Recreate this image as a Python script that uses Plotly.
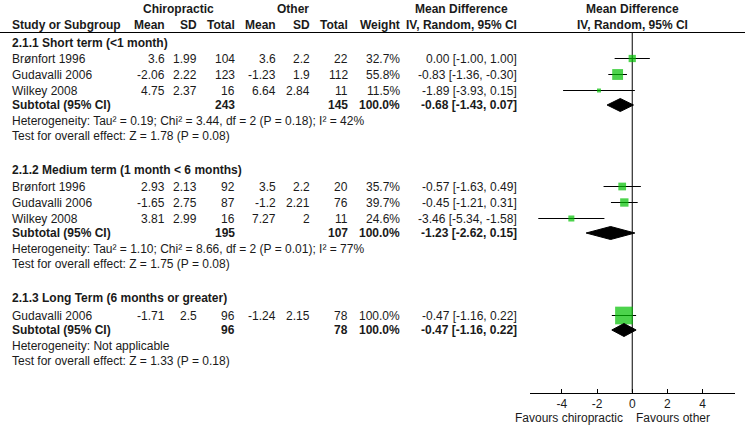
import plotly.graph_objects as go

# forest plot: chiropractic vs other, mean difference by follow-up period

groups = [
    "2.1.1 Short term (<1 month)",
    "2.1.2 Medium term (1 month < 6 months)",
    "2.1.3 Long Term (6 months or greater)",
]

study_group = [0, 0, 0, 1, 1, 1, 2]
study_names = ["Brønfort 1996", "Gudavalli 2006", "Wilkey 2008",
               "Brønfort 1996", "Gudavalli 2006", "Wilkey 2008",
               "Gudavalli 2006"]
chiro_mean = [3.6, -2.06, 4.75, 2.93, -1.65, 3.81, -1.71]
chiro_sd = [1.99, 2.22, 2.37, 2.13, 2.75, 2.99, 2.5]
chiro_n = [104, 123, 16, 92, 87, 16, 96]
other_mean = [3.6, -1.23, 6.64, 3.5, -1.2, 7.27, -1.24]
other_sd = [2.2, 1.9, 2.84, 2.2, 2.21, 2, 2.15]
other_n = [22, 112, 11, 20, 76, 11, 78]
weight = [32.7, 55.8, 11.5, 35.7, 39.7, 24.6, 100.0]
md = [0.00, -0.83, -1.89, -0.57, -0.45, -3.46, -0.47]
md_lo = [-1.00, -1.36, -3.93, -1.63, -1.21, -5.34, -1.16]
md_hi = [1.00, -0.30, 0.15, 0.49, 0.31, -1.58, 0.22]

sub_chiro_n = [243, 195, 96]
sub_other_n = [145, 107, 78]
sub_weight = [100.0, 100.0, 100.0]
sub_md = [-0.68, -1.23, -0.47]
sub_lo = [-1.43, -2.62, -1.16]
sub_hi = [0.07, 0.15, 0.22]
heterogeneity = [
    "Heterogeneity: Tau² = 0.19; Chi² = 3.44, df = 2 (P = 0.18); I² = 42%",
    "Heterogeneity: Tau² = 1.10; Chi² = 8.66, df = 2 (P = 0.01); I² = 77%",
    "Heterogeneity: Not applicable",
]
overall_test = [
    "Test for overall effect: Z = 1.78 (P = 0.08)",
    "Test for overall effect: Z = 1.75 (P = 0.08)",
    "Test for overall effect: Z = 1.33 (P = 0.18)",
]

tick_vals = [-4, -2, 0, 2, 4]

W, H = 745, 432
FONT = "Liberation Sans, Arial, sans-serif"
TXT = "#1a1a1a"
GREEN = "#00C000"

# column right edges (px)
COL_CM, COL_CSD, COL_CN = 166.5, 199, 237
COL_OM, COL_OSD, COL_ON = 278, 311.5, 350
COL_W, COL_CI = 402, 519

annotations = []


def add_text(x_px, y, text, anchor="right", bold=False):
    t = text.replace("<", "&lt;")
    if bold:
        t = "<b>" + t + "</b>"
    annotations.append(dict(
        x=x_px / W, y=y, xref="paper", yref="y", text=t, showarrow=False,
        xanchor=anchor, yanchor="middle", font=dict(size=12, color=TXT, family=FONT),
    ))


# header
add_text(178, 8.5, "Chiropractic", "center", True)
add_text(293, 8.5, "Other", "center", True)
add_text(461, 8.5, "Mean Difference", "center", True)
add_text(10, 25, "Study or Subgroup", "left", True)
for xp, lab in [(COL_CM, "Mean"), (COL_CSD, "SD"), (COL_CN, "Total"),
                (COL_OM, "Mean"), (COL_OSD, "SD"), (COL_ON, "Total"),
                (COL_W, "Weight"), (COL_CI, "IV, Random, 95% CI")]:
    add_text(xp, 25, lab, "right", True)

fig = go.Figure()

# row layout
y = 43
study_y = []
sub_y = []
for g, gname in enumerate(groups):
    add_text(10, y, gname, "left", True)
    y += 15.5 + g
    idx = [i for i, sg in enumerate(study_group) if sg == g]
    for k, i in enumerate(idx):
        if k > 0:
            y += 16
        study_y.append(y)
        add_text(10, y, study_names[i], "left")
        add_text(COL_CM, y, f"{chiro_mean[i]:g}")
        add_text(COL_CSD, y, f"{chiro_sd[i]:g}")
        add_text(COL_CN, y, str(chiro_n[i]))
        add_text(COL_OM, y, f"{other_mean[i]:g}")
        add_text(COL_OSD, y, f"{other_sd[i]:g}")
        add_text(COL_ON, y, str(other_n[i]))
        add_text(COL_W, y, f"{weight[i]:.1f}%")
        add_text(COL_CI, y, f"{md[i]:.2f} [{md_lo[i]:.2f}, {md_hi[i]:.2f}]")
    y += 14.5
    sub_y.append(y)
    add_text(10, y, "Subtotal (95% CI)", "left", True)
    add_text(COL_CN, y, str(sub_chiro_n[g]), "right", True)
    add_text(COL_ON, y, str(sub_other_n[g]), "right", True)
    add_text(COL_W, y, f"{sub_weight[g]:.1f}%", "right", True)
    add_text(COL_CI, y, f"{sub_md[g]:.2f} [{sub_lo[g]:.2f}, {sub_hi[g]:.2f}]", "right", True)
    y += 15.5
    add_text(10, y, heterogeneity[g], "left")
    y += 15.5
    add_text(10, y, overall_test[g], "left")
    y += 34

RULE_Y = 32.5
AXIS_Y = 392.5

# line of no effect
fig.add_trace(go.Scatter(x=[0, 0], y=[RULE_Y, AXIS_Y], mode="lines",
                         line=dict(color="black", width=1), hoverinfo="skip"))

# study CIs and squares
for i, yy in enumerate(study_y):
    fig.add_trace(go.Scatter(x=[md_lo[i], md_hi[i]], y=[yy, yy], mode="lines",
                             line=dict(color="black", width=1), hoverinfo="skip"))
fig.add_trace(go.Scatter(
    x=md, y=study_y, mode="markers",
    marker=dict(symbol="square", color=GREEN, size=[2.2 + 0.155 * w for w in weight],
                line=dict(width=0)),
    hoverinfo="skip",
))

# subtotal diamonds
h = 6.5
for g, yy in enumerate(sub_y):
    fig.add_trace(go.Scatter(
        x=[sub_lo[g], sub_md[g], sub_hi[g], sub_md[g], sub_lo[g]],
        y=[yy, yy - h, yy, yy + h, yy], mode="lines", fill="toself",
        fillcolor="black", line=dict(color="black", width=1), hoverinfo="skip",
    ))

# right-side header
annotations.append(dict(x=0, y=8.5, xref="x", yref="y", text="<b>Mean Difference</b>",
                        showarrow=False, font=dict(size=12, color=TXT, family=FONT)))
annotations.append(dict(x=0, y=25, xref="x", yref="y", text="<b>IV, Random, 95% CI</b>",
                        showarrow=False, font=dict(size=12, color=TXT, family=FONT)))
annotations.append(dict(x=0, y=418, xref="x", yref="y", text="Favours chiropractic",
                        xanchor="right", xshift=-7, showarrow=False,
                        font=dict(size=12, color=TXT, family=FONT)))
annotations.append(dict(x=0, y=418, xref="x", yref="y", text="Favours other",
                        xanchor="left", xshift=2, showarrow=False,
                        font=dict(size=12, color=TXT, family=FONT)))

fig.update_layout(
    width=W, height=H, autosize=False,
    margin=dict(l=0, r=0, t=0, b=0),
    paper_bgcolor="white", plot_bgcolor="white",
    showlegend=False,
    annotations=annotations,
    shapes=[dict(type="line", xref="paper", yref="y", x0=0, x1=1, y0=RULE_Y, y1=RULE_Y,
                 line=dict(color="black", width=1))],
    xaxis=dict(
        domain=[530 / W, 735 / W], range=[-5.81, 5.84],
        anchor="free", position=(H - AXIS_Y) / H,
        showline=True, linecolor="black", linewidth=1,
        ticks="inside", ticklen=4, tickcolor="black",
        ticklabelstandoff=0,
        tickvals=tick_vals, ticktext=[str(v) for v in tick_vals],
        tickfont=dict(size=12, color=TXT, family=FONT),
        showgrid=False, zeroline=False, fixedrange=True,
    ),
    yaxis=dict(domain=[0, 1], range=[H, 0], visible=False, showgrid=False,
               zeroline=False, fixedrange=True),
)

fig.write_html("out.html", config={"displayModeBar": False},
               post_script="document.body.style.margin='0';")
